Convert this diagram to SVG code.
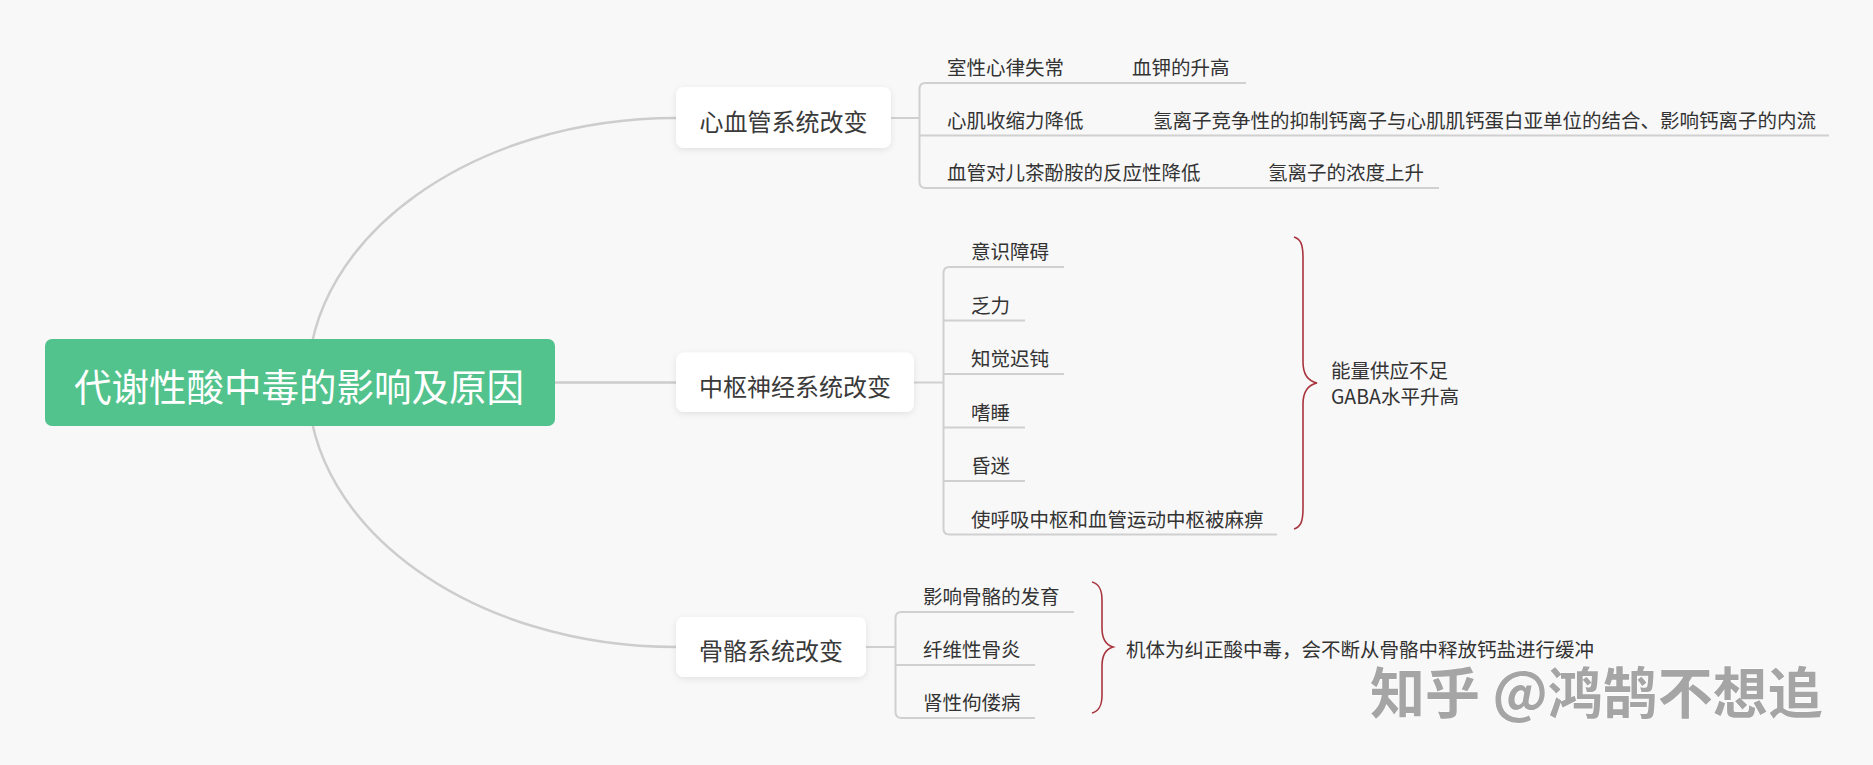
<svg xmlns="http://www.w3.org/2000/svg" width="1873" height="765" viewBox="0 0 1873 765">
<defs>
<filter id="sh" x="-20%" y="-30%" width="140%" height="170%">
<feDropShadow dx="0" dy="2" stdDeviation="3" flood-color="#000" flood-opacity="0.09"/>
</filter>
<style>
text{font-family:"Noto Sans CJK SC","Noto Sans",sans-serif;dominant-baseline:central}
.node{fill:#fff;filter:url(#sh)}
.nt{font-size:24px;fill:#3a3a3a;text-anchor:middle}
.lt{font-size:19.5px;fill:#333}
.ln{fill:none;stroke:#d0d0d0;stroke-width:2}
.mc{fill:none;stroke:#cdcdcd;stroke-width:2.5}
.br{fill:none;stroke:#a8343d;stroke-width:1.6}
</style>
</defs>
<rect width="1873" height="765" fill="#f8f8f8"/>
<g id="connectors">
<path class="mc" d="M308,382 C308,236 474,118 676,118"/>
<path class="mc" d="M308,383 C308,529 474,647 676,647"/>
<path class="mc" d="M555,382.5 H676"/>
<path class="ln" d="M891,118 H919.5"/>
<path class="ln" d="M1246,83 H925.5 Q919.5,83 919.5,89 V182 Q919.5,188 925.5,188 H1439"/>
<path class="ln" d="M919.5,135.5 H1829"/>
<path class="ln" d="M914,382.5 H943.5"/>
<path class="ln" d="M1064,267 H949.5 Q943.5,267 943.5,273 V528.5 Q943.5,534.5 949.5,534.5 H1277"/>
<path class="ln" d="M943.5,320.5 H1025 M943.5,374 H1064 M943.5,427.5 H1025 M943.5,481 H1025"/>
<path class="ln" d="M866,647 H895.5"/>
<path class="ln" d="M1074,612 H901.5 Q895.5,612 895.5,618 V712 Q895.5,718 901.5,718 H1035"/>
<path class="ln" d="M895.5,665 H1035"/>
<path class="br" d="M1294,237 C1301,239 1303,245 1303,258 L1303,362 C1303,375 1308,381 1317,383 C1308,385 1303,391 1303,404 L1303,508 C1303,521 1301,527 1294,529"/>
<path class="br" d="M1092,582 C1099,584 1102,589 1102,600 L1102,628 C1102,640 1106,645 1113,647 C1106,649 1102,654 1102,666 L1102,695 C1102,706 1099,711 1092,713"/>
</g>
<g id="root">
<rect x="45" y="339" width="510" height="87" rx="7" fill="#52c38d"/>
<text x="299" y="384" font-size="37.5" fill="#fff" text-anchor="middle">代谢性酸中毒的影响及原因</text>
</g>
<g id="n-cardio">
<rect class="node" x="676" y="87" width="215" height="61" rx="8"/>
<text class="nt" x="783.5" y="120">心血管系统改变</text>
</g>
<g id="n-cns">
<rect class="node" x="676" y="352.5" width="238" height="59.5" rx="8"/>
<text class="nt" x="795" y="385">中枢神经系统改变</text>
</g>
<g id="n-bone">
<rect class="node" x="676" y="617" width="190" height="60" rx="8"/>
<text class="nt" x="771" y="649">骨骼系统改变</text>
</g>
<g id="cardio-leaves">
<text class="lt" x="947" y="66.5">室性心律失常</text>
<text class="lt" x="1132" y="66.5">血钾的升高</text>
<text class="lt" x="947" y="119">心肌收缩力降低</text>
<text class="lt" x="1153" y="119">氢离子竞争性的抑制钙离子与心肌肌钙蛋白亚单位的结合、影响钙离子的内流</text>
<text class="lt" x="947" y="171.5">血管对儿茶酚胺的反应性降低</text>
<text class="lt" x="1268" y="171.5">氢离子的浓度上升</text>
</g>
<g id="cns-leaves">
<text class="lt" x="971" y="250.5">意识障碍</text>
<text class="lt" x="971" y="304">乏力</text>
<text class="lt" x="971" y="357.5">知觉迟钝</text>
<text class="lt" x="971" y="411">嗜睡</text>
<text class="lt" x="971" y="464.5">昏迷</text>
<text class="lt" x="971" y="518">使呼吸中枢和血管运动中枢被麻痹</text>
</g>
<g id="cns-summary">
<text class="lt" x="1331" y="369">能量供应不足</text>
<text class="lt" x="1331" y="395">GABA水平升高</text>
</g>
<g id="bone-leaves">
<text class="lt" x="923" y="595.5">影响骨骼的发育</text>
<text class="lt" x="923" y="648.5">纤维性骨炎</text>
<text class="lt" x="923" y="701.5">肾性佝偻病</text>
</g>
<g id="bone-summary">
<text class="lt" x="1126" y="648">机体为纠正酸中毒，会不断从骨骼中释放钙盐进行缓冲</text>
</g>
<g id="watermark">
<text x="1370" y="689" font-size="55" font-weight="bold" fill="#a5a5a5" stroke="#ffffff" stroke-width="1" paint-order="stroke">知乎 @鸿鹄不想追</text>
</g>
</svg>
